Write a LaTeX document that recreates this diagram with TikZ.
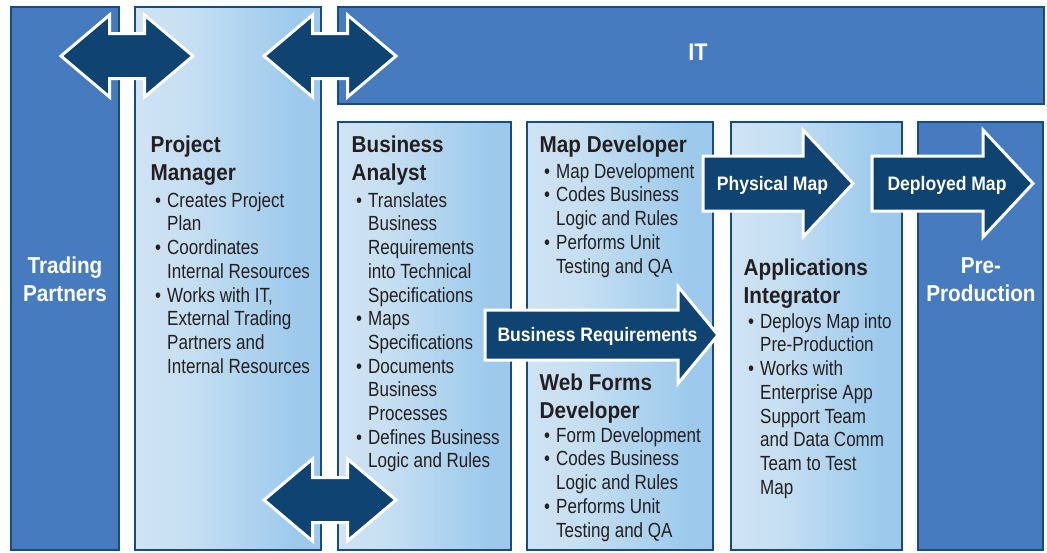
\documentclass[tikz,border=0pt]{standalone}
\usepackage{fontspec}
\setmainfont{Liberation Sans}
\newfontfamily\bodyfont{Liberation Sans}[FakeStretch=0.83]
\newfontfamily\headfont{Liberation Sans}[FakeStretch=0.9]
\definecolor{midblue}{HTML}{467BBF}
\definecolor{border}{HTML}{174C7E}
\definecolor{navy}{HTML}{0F4372}
\definecolor{lbA}{HTML}{CFE3F4}
\definecolor{lbB}{HTML}{C8E0F3}
\definecolor{lbC}{HTML}{9DCAEC}
\definecolor{ink}{HTML}{231F20}
\pgfdeclarehorizontalshading{lightgrad}{100bp}{color(0bp)=(lbA); color(25bp)=(lbA); color(38bp)=(lbB); color(68bp)=(lbC); color(75bp)=(lbC); color(100bp)=(lbC)}
\newcommand\topstrut{\rule{0pt}{20pt}}
\newcommand\bl{\makebox[12pt][l]{\textbullet}}
\newcommand\ind{\makebox[12pt]{}}
\newcommand\dblarrow[2]{\begin{scope}[shift={(#1,#2)}]
  \draw[bigarrow] (-66,0) -- (-17.5,-41) -- (-17.5,-22.5) -- (17.5,-22.5) -- (17.5,-41) -- (66,0)
     -- (17.5,41) -- (17.5,22.5) -- (-17.5,22.5) -- (-17.5,41) -- cycle;\end{scope}}
% start x, head base x, tip x, centre y, shaft half, head half
\newcommand\sarrow[6]{\draw[bigarrow] (#1,#4-#5) -- (#2,#4-#5) -- (#2,#4-#6) -- (#3,#4)
     -- (#2,#4+#6) -- (#2,#4+#5) -- (#1,#4+#5) -- cycle;}
\tikzset{
  darkbox/.style={draw=border, line width=1.8pt, fill=midblue, inner sep=0pt},
  lightbox/.style={draw=border, line width=1.8pt, shading=lightgrad, inner sep=0pt},
  bigarrow/.style={fill=navy, draw=white, line width=3pt, line join=miter},
  head/.style={font=\headfont\bfseries\fontsize{23}{28}\selectfont, text=ink, align=left, anchor=north west, inner sep=0pt},
  body/.style={font=\bodyfont\fontsize{20.5}{23.7}\selectfont, text=ink, align=left, anchor=north west, inner sep=0pt},
  whitehead/.style={font=\headfont\bfseries\fontsize{23}{28.5}\selectfont, text=white, align=center, anchor=north, inner sep=0pt},
  alabel/.style={font=\headfont\bfseries\fontsize{19.5}{22}\selectfont, text=white, inner sep=0pt, anchor=base},
}
\begin{document}
\begin{tikzpicture}[x=1pt,y=-1pt]
\useasboundingbox (0,0) rectangle (1047,552);
\fill[white] (0,0) rectangle (1047,552);
% boxes
\node[darkbox, minimum width=108, minimum height=543] (tp) at (65,278.5) {};
\node[lightbox, minimum width=186, minimum height=543] (pm) at (228,278.5) {};
\node[darkbox, minimum width=706, minimum height=97] (it) at (691,55.5) {};
\node[lightbox, minimum width=173, minimum height=428] (ba) at (424.5,336) {};
\node[lightbox, minimum width=186, minimum height=428] (md) at (620,336) {};
\node[lightbox, minimum width=171, minimum height=428] (ai) at (816.5,336) {};
\node[darkbox, minimum width=125, minimum height=428] (pp) at (980.5,336) {};
% arrows
\dblarrow{127}{56}
\dblarrow{330}{56}
\dblarrow{330}{500}
\sarrow{485}{678}{718}{335}{25}{48.5}
\sarrow{703}{803}{853}{183.5}{27.5}{53.5}
\sarrow{872}{983}{1033}{183.5}{27.5}{53.5}
% labels on arrows
\node[alabel] (brl) at (597.5,341) {Business Requirements};
\node[alabel] (pml) at (772.5,190) {Physical Map};
\node[alabel] (dml) at (947,190) {Deployed Map};
% white titles
\node[whitehead] (tpt) at (65,253) {\topstrut Trading\\Partners};
\node[whitehead] (ppt) at (981,253) {\topstrut Pre-\\Production};
\node[font=\headfont\bfseries\fontsize{24}{28}\selectfont, text=white, inner sep=0pt, anchor=base] (itt) at (698,60) {IT};
% project manager
\node[head] (pmh) at (150.5,132) {\topstrut Project\\Manager};
\node[body] (pmb) at (155,187) {\topstrut\bl Creates Project\\\ind Plan\\\bl Coordinates\\\ind Internal Resources\\\bl Works with IT,\\\ind External Trading\\\ind Partners and\\\ind Internal Resources};
% business analyst
\node[head] (bah) at (351.5,132) {\topstrut Business\\Analyst};
\node[body] (bab) at (356,187) {\topstrut\bl Translates\\\ind Business\\\ind Requirements\\\ind into Technical\\\ind Specifications\\\bl Maps\\\ind Specifications\\\bl Documents\\\ind Business\\\ind Processes\\\bl Defines Business\\\ind Logic and Rules};
% map developer
\node[head] (mdh) at (539.5,132) {\topstrut Map Developer};
\node[body] (mdb) at (544,158) {\topstrut\bl Map Development\\\bl Codes Business\\\ind Logic and Rules\\\bl Performs Unit\\\ind Testing and QA};
% web forms developer
\node[head] (wfh) at (539.5,370) {\topstrut Web Forms\\Developer};
\node[body] (wfb) at (544,422) {\topstrut\bl Form Development\\\bl Codes Business\\\ind Logic and Rules\\\bl Performs Unit\\\ind Testing and QA};
% applications integrator
\node[head] (aih) at (743.5,255) {\topstrut Applications\\Integrator};
\node[body] (aib) at (748,308) {\topstrut\bl Deploys Map into\\\ind Pre-Production\\\bl Works with\\\ind Enterprise App\\\ind Support Team\\\ind and Data Comm\\\ind Team to Test\\\ind Map};
\end{tikzpicture}
\end{document}
